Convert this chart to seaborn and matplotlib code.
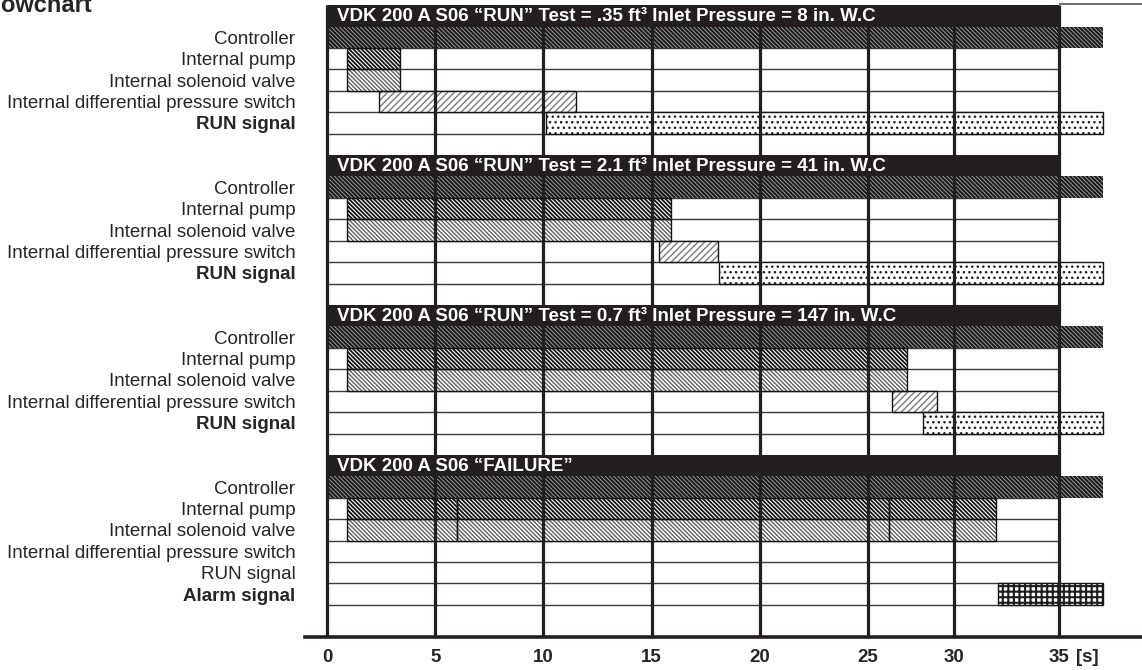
import numpy as np
import matplotlib.pyplot as plt
import matplotlib.transforms as mtransforms
import seaborn as sns

# ---- data (times in seconds) ----
section_titles = [
    "VDK 200 A S06 \u201cRUN\u201d Test = .35 ft\u00b3 Inlet Pressure = 8 in. W.C",
    "VDK 200 A S06 \u201cRUN\u201d Test = 2.1 ft\u00b3 Inlet Pressure = 41 in. W.C",
    "VDK 200 A S06 \u201cRUN\u201d Test = 0.7 ft\u00b3 Inlet Pressure = 147 in. W.C",
    "VDK 200 A S06 \u201cFAILURE\u201d",
]
run_rows = ["Controller", "Internal pump", "Internal solenoid valve",
            "Internal differential pressure switch", "RUN signal"]
fail_rows = run_rows + ["Alarm signal"]
bold_rows = ["RUN signal", "RUN signal", "RUN signal", "Alarm signal"]

END = 37.1  # controller / signals keep running past the 35 s line

run1 = {"Controller": [(0, END)],
        "Internal pump": [(0.9, 3.35)],
        "Internal solenoid valve": [(0.9, 3.35)],
        "Internal differential pressure switch": [(2.4, 11.5)],
        "RUN signal": [(10.1, END)]}
run2 = {"Controller": [(0, END)],
        "Internal pump": [(0.9, 15.9)],
        "Internal solenoid valve": [(0.9, 15.9)],
        "Internal differential pressure switch": [(15.35, 18.05)],
        "RUN signal": [(18.1, END)]}
run3 = {"Controller": [(0, END)],
        "Internal pump": [(0.9, 27.25)],
        "Internal solenoid valve": [(0.9, 27.25)],
        "Internal differential pressure switch": [(26.4, 29.0)],
        "RUN signal": [(28.2, END)]}
fail = {"Controller": [(0, END)],
        "Internal pump": [(0.9, 6.0), (6.0, 26.2), (26.2, 32.0)],
        "Internal solenoid valve": [(0.9, 6.0), (6.0, 26.2), (26.2, 32.0)],
        "Internal differential pressure switch": [],
        "RUN signal": [],
        "Alarm signal": [(32.1, END)]}
sections = [(run1, run_rows), (run2, run_rows), (run3, run_rows), (fail, fail_rows)]

tick_values = [0, 5, 10, 15, 20, 25, 30, 35]
tick_labels = ["0", "5", "10", "15", "20", "25", "30", "35"]

# printed time axis is not uniform (25-30 s is squeezed)
warp_s = [-5, 0, 25, 30, 35, 45]
warp_d = [-5, 0, 25, 28.97, 33.83, 43.53]

# ---- styling ----
BS = chr(92)  # backslash hatch
styles = {
    "Controller": dict(face="#1c1c1c", hatch=BS * 8, hcolor="#a8a8a8", hlw=0.6, border=None),
    "Internal pump": dict(face="white", hatch=BS * 8, hcolor="#141414", hlw=1.3, border="#141414"),
    "Internal solenoid valve": dict(face="white", hatch=BS * 8, hcolor="#5e5e5e", hlw=1.0, border="#141414"),
    "Internal differential pressure switch": dict(face="white", hatch="/" * 5, hcolor="#7a7a7a", hlw=1.0, border="#141414"),
    "RUN signal": dict(face="white", hatch="...", hcolor="#1e1e1e", hlw=1.0, border="#141414"),
    "Alarm signal": dict(face="white", hatch="+++", hcolor="#1e1e1e", hlw=1.5, border="#141414"),
}
DARK = "#231f20"

sns.set_theme(style="white")
plt.rcParams['font.family'] = ['Liberation Sans', 'DejaVu Sans']
plt.rcParams['hatch.linewidth'] = 1.1

fig = plt.figure(figsize=(11.42, 6.70), dpi=100)
ax = fig.add_axes([305 / 1142, 1 - 637 / 670, 1 - 305 / 1142, 634 / 670])
ax.set_xscale('function', functions=(lambda s: np.interp(s, warp_s, warp_d),
                                     lambda d: np.interp(d, warp_d, warp_s)))
title_shift = ax.transData + mtransforms.ScaledTranslation(10 / 100, 0, fig.dpi_scale_trans)

ytick_pos, ytick_lab, ytick_bold = [], [], []
for si, (data, rows) in enumerate(sections):
    top = 7 * si
    # black header band
    ax.barh(top, 35, left=0, height=1, align='edge', color=DARK, zorder=5, linewidth=0)
    ax.text(0, top + 0.52, section_titles[si], color="white", fontsize=13.5, fontweight="bold",
            va="center", ha="left", zorder=6, transform=title_shift)
    for ri, name in enumerate(rows):
        y = top + 1 + ri
        ytick_pos.append(y + 0.5)
        ytick_lab.append(name)
        ytick_bold.append(name == bold_rows[si])
        # row separator under each row
        ax.hlines(y + 1, 0, 35, color="#3a3a3a", linewidth=1.0, zorder=1)
        st = styles[name]
        for (a, b) in data[name]:
            bars = ax.barh(y, b - a, left=a, height=1, align='edge', color=st["face"],
                           hatch=st["hatch"], edgecolor=st["hcolor"], linewidth=0, zorder=2)
            for p in bars:
                if hasattr(p, "set_hatch_linewidth"):
                    p.set_hatch_linewidth(st["hlw"])
            if st["border"]:
                ax.barh(y, b - a, left=a, height=1, align='edge', fill=False,
                        edgecolor=st["border"], linewidth=1.0, zorder=2.5)

# vertical time lines
ax.vlines(tick_values, 0, 29.5, color=DARK, linewidth=2.3, zorder=4)
ax.hlines(-0.05, 35, 39, color="#555555", linewidth=1.2, zorder=4)

ax.set_xlim(-1.02, 38.95)
ax.set_ylim(29.5, -0.1)

ax.set_xticks(tick_values)
ax.set_xticklabels(tick_labels, fontsize=13.5, fontweight="bold")
ax.tick_params(axis="x", length=0, pad=9)
ax.annotate("[s]", xy=(35, 29.5), xytext=(12, -9), textcoords="offset points",
            ha="left", va="top", fontsize=13.5, fontweight="bold", annotation_clip=False)

ax.set_yticks(ytick_pos)
ax.set_yticklabels(ytick_lab, fontsize=13.5)
for lab, b in zip(ax.get_yticklabels(), ytick_bold):
    if b:
        lab.set_fontweight("bold")
ax.tick_params(axis="y", length=0, pad=7)

sns.despine(ax=ax, left=True, top=True, right=True)
ax.spines["bottom"].set_linewidth(2.6)
ax.spines["bottom"].set_color(DARK)
ax.grid(False)

fig.text(92 / 1142, 1 - 12 / 670, "Flowchart", ha="right", va="baseline",
         fontsize=17, fontweight="bold")

fig.savefig("out.png", dpi=100)
